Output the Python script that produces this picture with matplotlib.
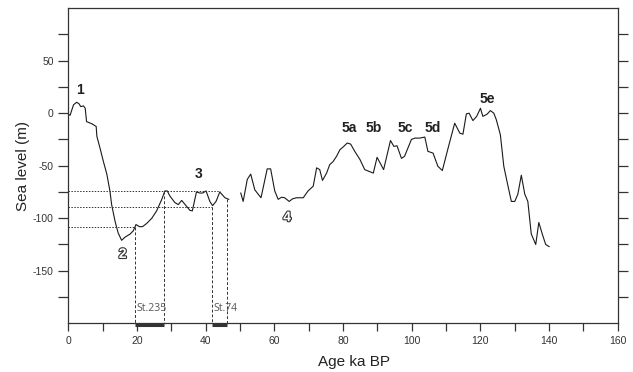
import numpy as np
import matplotlib.pyplot as plt
import matplotlib.patheffects as pe
from matplotlib.ticker import MultipleLocator, FixedLocator

plt.rcParams['font.family'] = ['Liberation Sans', 'DejaVu Sans']
plt.rcParams['axes.unicode_minus'] = False

# sea level curve (two segments, gap near 48 ka)
age_a = [0.0, 0.5, 1.5, 2.4, 3.1, 3.6, 4.4, 4.9, 5.3, 6.8, 8.1, 8.3, 9.2, 10.2,
         11.2, 12.1, 12.6, 13.6, 14.5, 15.5, 16.5, 18.0, 18.9, 19.7, 20.7, 21.6,
         22.8, 24.3, 25.7, 27.2, 28.1, 28.8, 29.6, 31.0, 32.0, 33.0, 34.0, 35.4,
         36.1, 37.3, 38.3, 39.1, 40.1, 41.2, 42.0, 43.0, 44.1, 45.6, 46.7]
sea_a = [-1, -2, 8, 10.4, 9, 6.3, 7, 4.7, -8, -10, -12.6, -22, -33, -46,
         -58, -74, -87, -103, -114, -121, -118, -115, -112, -106, -108, -108,
         -105, -100, -93, -82, -74, -74, -79, -85, -87, -83, -87, -92.5,
         -93, -75, -76, -76, -74, -84, -88, -84, -75, -80.5, -82]

age_b = [50.2, 50.9, 52.1, 53.1, 54.3, 56.1, 57.9, 58.9, 60.1, 61.1, 62.1, 63.0,
         64.3, 65.3, 66.4, 68.4, 69.8, 71.3, 72.3, 73.2, 74.0, 75.2, 76.1, 77.1,
         78.1, 79.1, 80.2, 81.2, 82.2, 83.4, 84.9, 86.3, 88.8, 89.9, 91.8, 93.8,
         94.8, 95.7, 97.0, 97.9, 99.9, 100.9, 102.3, 103.8, 104.7, 106.2, 107.6,
         108.9, 110.6, 112.5, 114.0, 114.9, 115.9, 116.7, 117.8, 118.9, 120.0,
         120.7, 121.9, 122.9, 123.9, 124.6, 125.8, 126.8, 127.8, 129.0, 130.0,
         130.9, 131.9, 132.9, 133.8, 134.8, 136.1, 137.0, 138.0, 139.0, 140.0]
sea_b = [-76, -84, -63, -58, -73, -80.5, -53, -53, -74, -82, -80, -80.5,
         -84, -81.5, -80.5, -80.5, -74, -69.5, -52, -53.7, -64, -57, -49, -46,
         -41, -34.7, -31.6, -28.4, -29.4, -36.3, -44, -53.7, -57, -42, -53.7, -26,
         -31.6, -31, -43, -41, -25, -23.7, -23.7, -22.7, -36.3, -38, -50.5,
         -54.6, -33, -9.5, -19, -20, -0.6, 0, -7, -3, 4.7,
         -3, -1, 2.5, 0, -6, -20.5, -50.5, -66, -84, -84,
         -77, -59, -77, -84, -115, -125, -104, -115, -125, -127]

# reference levels and sample age windows
levels = [-74, -89, -108]
level_ends = [44.1, 41.9, 19.4]
st235 = [19.4, 27.9]
st74 = [41.9, 46.1]
st235_top = [-108, -74]
st74_top = [-89, -81.5]

stage_labels = ['1', '3', '5a', '5b', '5c', '5d', '5e']
stage_x = [3.3, 37.8, 81.7, 89.0, 98.0, 106.0, 121.9]
stage_y = [22, -58, -14, -14, -14, -14, 14]
cold_labels = ['2', '4']
cold_x = [15.8, 63.7]
cold_y = [-134, -99]

fig = plt.figure(figsize=(6.33, 3.72), dpi=100)
ax = fig.add_axes([0.108, 0.131, 0.868, 0.847])

ax.plot(age_a, sea_a, color='#1a1a1a', lw=0.8)
ax.plot(age_b, sea_b, color='#1a1a1a', lw=0.8)

# dotted horizontal levels
for lv, xe in zip(levels, level_ends):
    ax.plot([0, xe], [lv, lv], color='#333333', lw=0.7, ls=(0, (1.5, 1.5)))

# dashed vertical lines down to the axis
for xs, tops in [(st235, st235_top), (st74, st74_top)]:
    for xv, yt in zip(xs, tops):
        ax.plot([xv, xv], [yt, -200], color='#333333', lw=0.7, ls=(0, (3, 2)))
    ax.plot(xs, [-201.5, -201.5], color='#333333', lw=2.2, clip_on=False,
            solid_capstyle='butt')

ax.text(st235[0] + 0.4, -186, 'St.235', fontsize=7.5, color='#555555',
        va='center', ha='left', family='Open Sans')
ax.text(st74[0] + 0.5, -186, 'St.74', fontsize=7.5, color='#555555',
        va='center', ha='left', family='Open Sans')

for s, x, y in zip(stage_labels, stage_x, stage_y):
    ax.text(x, y, s, fontsize=10, fontweight='bold', color='#222222',
            ha='center', va='center')
for s, x, y in zip(cold_labels, cold_x, cold_y):
    ax.text(x, y, s, fontsize=10, fontweight='bold', color='white',
            ha='center', va='center',
            path_effects=[pe.withStroke(linewidth=1.6, foreground='#333333')])

ax.set_xlim(0, 160)
ax.set_ylim(-200, 100)
ax.xaxis.set_major_locator(MultipleLocator(20))
ax.xaxis.set_minor_locator(MultipleLocator(10))
ax.yaxis.set_major_locator(FixedLocator([-150, -100, -50, 0, 50]))
ax.yaxis.set_minor_locator(FixedLocator([-175, -125, -75, -25, 25, 75]))
ax.tick_params(which='both', direction='out', length=7, width=0.9,
               color='#333333', labelsize=7.5, labelcolor='#333333',
               right=True, top=False)
ax.tick_params(axis='x', which='both', length=6)
for sp in ax.spines.values():
    sp.set_color('#333333')
    sp.set_linewidth(0.9)

ax.set_xlabel('Age ka BP', fontsize=11, color='#222222')
ax.xaxis.set_label_coords(0.52, -0.1)
ax.set_ylabel('Sea level (m)', fontsize=11, color='#222222')
ax.yaxis.set_label_coords(-0.07, 0.5)

plt.savefig('out.png', dpi=100)
